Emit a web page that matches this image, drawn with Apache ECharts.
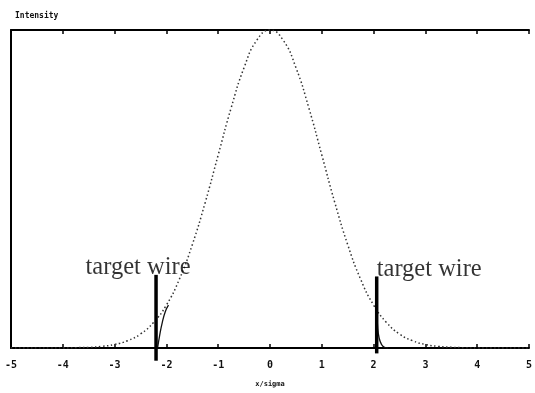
<!DOCTYPE html>
<html><head><meta charset="utf-8">
<script src="https://cdn.jsdelivr.net/npm/echarts@6/dist/echarts.min.js"></script>
<style>html,body{margin:0;padding:0;background:#fff}#c{width:535px;height:393px}</style>
</head><body><div id="c"></div>
<script>
const xTicks = [-5,-4,-3,-2,-1,0,1,2,3,4,5];
const gaussX = [-5,-4.75,-4.5,-4.25,-4,-3.75,-3.5,-3.25,-3,-2.75,-2.5,-2.25,-2,-1.75,-1.5,-1.25,-1,-0.75,-0.5,-0.25,0,0.25,0.5,0.75,1,1.25,1.5,1.75,2,2.25,2.5,2.75,3,3.25,3.5,3.75,4,4.25,4.5,4.75,5];
const gaussY = [0,0,0,0,0,0.001,0.002,0.005,0.011,0.023,0.044,0.080,0.135,0.216,0.325,0.458,0.607,0.755,0.882,0.969,1.0,0.969,0.882,0.755,0.607,0.458,0.325,0.216,0.135,0.080,0.044,0.023,0.011,0.005,0.002,0.001,0,0,0,0,0];
const leftSignalX = [-2.17,-2.13,-2.08,-2.02,-1.96];
const leftSignalY = [0.0,0.04,0.08,0.115,0.135];
const rightSignalX = [2.06,2.08,2.11,2.15,2.2,2.28];
const rightSignalY = [0.13,0.06,0.03,0.012,0.003,0];
const wireLeftX = -2.2, wireLeftY = [-0.04, 0.23];
const wireRightX = 2.06, wireRightY = [-0.017, 0.225];
const wireLabel = 'target wire';

const pair = (xs, ys) => xs.map((x,i)=>[x, ys[i]]);
const chart = echarts.init(document.getElementById('c'));
const mono = '"DejaVu Sans Mono", monospace';
chart.setOption({
  animation:false,
  backgroundColor:'#fff',
  title:{text:'Intensity', left:10, top:7, textStyle:{fontFamily:mono, fontSize:8, fontWeight:'bold', color:'#111'}},
  grid:{left:11, right:3, top:30, bottom:44},
  xAxis:[{
    type:'value', min:-5, max:5, interval:1, position:'bottom',
    name:'x/sigma', nameLocation:'middle', nameGap:33,
    nameTextStyle:{fontFamily:mono, fontSize:7, fontWeight:'bold', color:'#111'},
    axisLine:{onZero:false, lineStyle:{color:'#000', width:2}},
    axisTick:{inside:true, length:4, lineStyle:{color:'#000', width:1.5}},
    axisLabel:{fontFamily:mono, fontSize:10, fontWeight:'bold', color:'#111', margin:12,
      formatter:v=>xTicks.includes(v)?String(v):''},
    splitLine:{show:false}
  },{
    type:'value', min:-5, max:5, interval:1, position:'top',
    axisLine:{onZero:false, lineStyle:{color:'#000', width:2}},
    axisTick:{inside:true, length:4, lineStyle:{color:'#000', width:1.5}},
    axisLabel:{show:false}, splitLine:{show:false}
  }],
  yAxis:{type:'value', min:0, max:1,
    axisLine:{show:true, onZero:false, lineStyle:{color:'#000', width:2}},
    axisTick:{show:false}, axisLabel:{show:false}, splitLine:{show:false}},
  series:[
    {type:'line', data:pair(gaussX,gaussY), smooth:true, showSymbol:false,
      lineStyle:{color:'#333', width:1.5, type:[1.5,2.5]}},
    {type:'line', data:pair(leftSignalX,leftSignalY), smooth:true, showSymbol:false,
      lineStyle:{color:'#111', width:1.3}},
    {type:'line', data:pair(rightSignalX,rightSignalY), smooth:true, showSymbol:false,
      lineStyle:{color:'#111', width:1.3}},
    {type:'line', data:wireLeftY.map(y=>[wireLeftX,y]), showSymbol:false, clip:false,
      lineStyle:{color:'#000', width:3.5}},
    {type:'line', data:wireRightY.map(y=>[wireRightX,y]), showSymbol:false, clip:false,
      lineStyle:{color:'#000', width:3.5}},
    {type:'scatter', symbolSize:1, itemStyle:{color:'rgba(0,0,0,0)'}, clip:false, z:5,
      data:[
        {value:[wireLeftX, wireLeftY[1]], label:{show:true, formatter:wireLabel, position:'top', distance:0, offset:[-18,6]}},
        {value:[wireRightX, wireRightY[1]], label:{show:true, formatter:wireLabel, position:'top', align:'left', distance:0, offset:[0,6]}}
      ],
      label:{show:true, fontFamily:'"Liberation Serif", serif', fontSize:24.5, color:'#000'}}
  ]
});
</script></body></html>
